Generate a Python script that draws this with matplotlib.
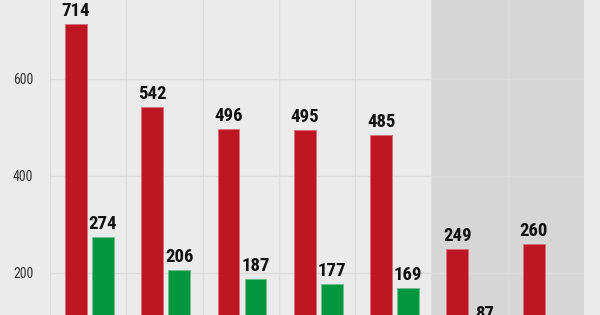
import matplotlib.pyplot as plt
import numpy as np

# data
groups = ['A', 'B', 'C', 'D', 'E', 'F', 'G']
red_vals = [714, 542, 496, 495, 485, 249, 260]
green_vals = [274, 206, 187, 177, 169, 87, 55]
yticks = [200, 400, 600]

RED = '#be1622'
GREEN = '#00973f'
BG = '#ebebeb'
SHADE = '#d6d6d6'
GRID = '#dcdcdc'

label_font = ['Roboto Condensed', 'Roboto', 'DejaVu Sans']

fig = plt.figure(figsize=(6, 3.15), dpi=100, facecolor=BG)
ax = fig.add_axes([50 / 600, 0, 534 / 600, 1])
ax.set_facecolor(BG)

x = np.arange(len(groups))
w = 0.285
ax.axvspan(4.5, 6.5, color=SHADE, zorder=0, lw=0)

rb = ax.bar(x - 0.16, red_vals, w, color=RED, edgecolor='#d8707a', linewidth=0.6, zorder=3)
gb = ax.bar(x + 0.195, green_vals, w, color=GREEN, edgecolor='#6cc08e', linewidth=0.6, zorder=3)

for bars, vals in [(rb, red_vals), (gb, green_vals)]:
    for b, v in zip(bars, vals):
        ax.annotate(str(v), (b.get_x() + b.get_width() / 2, v), xytext=(0, 3),
                    textcoords='offset points', ha='center', va='bottom',
                    fontsize=13.5, fontweight='bold', family=label_font,
                    color='#111111', zorder=4, annotation_clip=False)

ax.set_xlim(-0.5, 6.5)
ax.set_ylim(113, 763)
ax.set_yticks(yticks)
ax.set_yticklabels([str(t) for t in yticks], family=label_font, fontsize=10, color='#333333')
ax.set_xticks(np.arange(-0.5, 7, 1))
ax.set_xticklabels([])
ax.tick_params(length=0, pad=12)
ax.grid(True, color=GRID, linewidth=1, zorder=1)
ax.set_axisbelow(True)
for s in ax.spines.values():
    s.set_visible(False)

fig.savefig('out.png', dpi=100, facecolor=BG)
